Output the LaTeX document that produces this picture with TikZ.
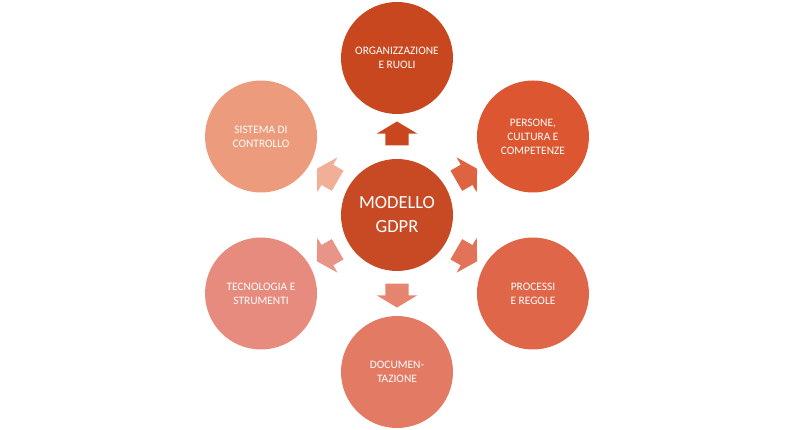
\documentclass[tikz,border=0pt]{standalone}
\usepackage{fontspec}
\setmainfont{Carlito}
\usepackage{xcolor}
\usetikzlibrary{shapes.arrows, positioning}

\definecolor{cOrg}{HTML}{C9471F}
\definecolor{cCore}{HTML}{C84A25}
\definecolor{cPers}{HTML}{DB5631}
\definecolor{cProc}{HTML}{DF6649}
\definecolor{cDoc}{HTML}{E37A64}
\definecolor{cTec}{HTML}{E68B7E}
\definecolor{cSis}{HTML}{EC9B7C}

\begin{document}
\begin{tikzpicture}[
  x=1pt, y=1pt,
  roundbox/.style={circle, minimum size=112pt, inner sep=0pt, align=center,
    text=white, font=\fontsize{11.4}{14}\selectfont},
  corebox/.style={roundbox, fill=cCore, font=\fontsize{18.5}{24}\selectfont},
  blockarrow/.style={single arrow, draw=none, minimum height=24pt,
    single arrow head extend=8.5pt, single arrow tip angle=118,
    text height=0pt, text depth=0pt, text width=0pt,
    inner ysep=11.5pt, inner xsep=2pt}
]
\useasboundingbox (-397,-215) rectangle (403,215);

\node[corebox] (core) at (0,0) {MODELLO\\GDPR};

\node[roundbox, fill=cOrg]  (org)  at (90:157)  {ORGANIZZAZIONE\\E RUOLI};
\node[roundbox, fill=cPers] (pers) at (30:157)  {PERSONE,\\CULTURA E\\COMPETENZE};
\node[roundbox, fill=cProc] (proc) at (-30:157) {PROCESSI\\E REGOLE};
\node[roundbox, fill=cDoc]  (doc)  at (-90:157) {DOCUMEN-\\TAZIONE};
\node[roundbox, fill=cTec]  (tec)  at (210:157) {TECNOLOGIA E\\STRUMENTI};
\node[roundbox, fill=cSis]  (sis)  at (150:157) {SISTEMA DI\\CONTROLLO};

% frecce verso i cerchi esterni
\node[blockarrow, fill=cOrg, rotate=90]  (toorg)  at (90:78)  {};
\node[blockarrow, fill=cPers!92!white, rotate=30]  (topers) at (30:77)  {};
\node[blockarrow, fill=cProc!92!white, rotate=-30] (toproc) at (-30:77) {};
\node[blockarrow, fill=cDoc!92!white, rotate=-90]  (todoc)  at (-90:77) {};
\node[blockarrow, fill=cTec!92!white, rotate=210]  (totec)  at (210:77) {};
\node[blockarrow, fill=cSis!80!white, rotate=150]  (tosis)  at (150:77) {};
\end{tikzpicture}
\end{document}
